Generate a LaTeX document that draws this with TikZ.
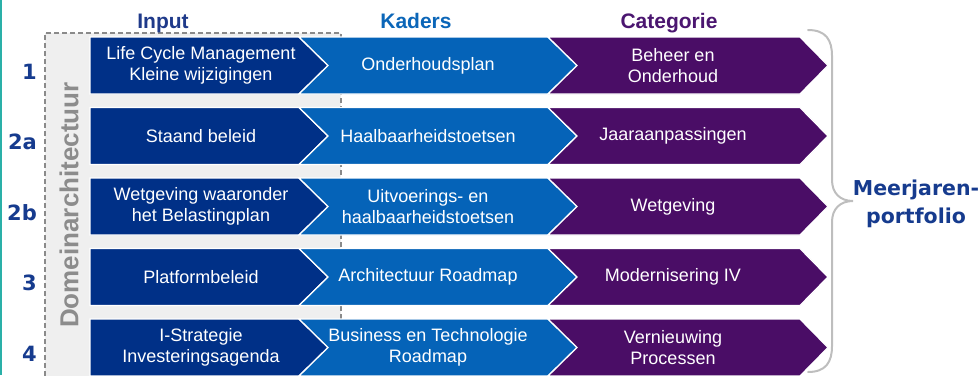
\documentclass[tikz,border=0pt]{standalone}
\usepackage{fontspec}
\setmainfont{Liberation Sans}
\newfontfamily\dejavu{DejaVu Sans}
\definecolor{inputc}{HTML}{003087}
\definecolor{kaderc}{HTML}{0563B8}
\definecolor{catc}{HTML}{4A0D66}
\definecolor{inhdr}{HTML}{1F3A8A}
\definecolor{kdhdr}{HTML}{0B66B8}
\definecolor{cthdr}{HTML}{4B1670}
\definecolor{numc}{HTML}{163B8E}
\definecolor{graybg}{HTML}{EFEFEF}
\definecolor{dashc}{HTML}{8A8A8A}
\definecolor{domc}{HTML}{8C8C8C}
\definecolor{tealc}{HTML}{2AB0A8}
\definecolor{bracec}{HTML}{BEBEBE}
\begin{document}
\begin{tikzpicture}[x=1pt,y=-1pt,
  chevtext/.style={text=white, align=center, inner sep=0pt, font=\fontsize{18}{21}\selectfont},
  hdr/.style={inner sep=0pt, anchor=base, font=\fontsize{21}{25}\selectfont\bfseries},
  numstyle/.style={inner sep=0pt, anchor=base east, text=numc, font=\dejavu\fontsize{21}{25}\selectfont\bfseries},
  chevshape/.style={draw=white, line width=1.3pt, line join=miter},
  dashline/.style={draw=dashc, line width=1.5pt, dash pattern=on 5pt off 3pt},
]
\useasboundingbox (0,0) rectangle (979,375);
% gray domain area
\fill[graybg] (45,33) rectangle (341,376);
\draw[dashline] (45,376) -- (45,33) -- (341,33) -- (341,376);
\node[rotate=90, inner sep=0pt, text=domc, font=\fontsize{26}{30}\selectfont\bfseries] (dom) at (69,205) {Domeinarchitectuur};
% teal left rule
\draw[tealc, line width=2pt] (1,0) -- (1,375);
% headers
\node[hdr, text=inhdr] (hin) at (163,28) {Input};
\node[hdr, text=kdhdr] (hkd) at (416,28) {Kaders};
\node[hdr, text=cthdr] (hct) at (669,28) {Categorie};
% rows
\foreach \t/\nn/\a/\b/\c [count=\i] in {
  37/1/{Life Cycle Management\\Kleine wijzigingen}/{Onderhoudsplan}/{Beheer en\\Onderhoud},
  107.5/2a/{Staand beleid}/{Haalbaarheidstoetsen}/{Jaaraanpassingen},
  178/2b/{Wetgeving waaronder\\het Belastingplan}/{Uitvoerings- en\\haalbaarheidstoetsen}/{Wetgeving},
  248.5/3/{Platformbeleid}/{Architectuur Roadmap}/{Modernisering IV},
  319/4/{I-Strategie\\Investeringsagenda}/{Business en Technologie\\Roadmap}/{Vernieuwing\\Processen}}{
  \pgfmathsetmacro\m{\t+28.5}
  \pgfmathsetmacro\bt{\t+57}
  \pgfmathsetmacro\nb{\t+42}
  \filldraw[chevshape, fill=inputc] (90,\t) -- (299,\t) -- (328,\m) -- (299,\bt) -- (90,\bt) -- cycle;
  \filldraw[chevshape, fill=kaderc] (299,\t) -- (548,\t) -- (577,\m) -- (548,\bt) -- (299,\bt) -- (328,\m) -- cycle;
  \filldraw[chevshape, fill=catc] (548,\t) -- (800,\t) -- (828,\m) -- (800,\bt) -- (548,\bt) -- (577,\m) -- cycle;
  \node[chevtext] (in\i) at (201,\m) {\a};
  \node[chevtext] (kd\i) at (428,\m) {\b};
  \node[chevtext] (ct\i) at (673,\m) {\c};
  \node[numstyle] (num\i) at (37,\nb) {\nn};
}
% brace
\draw[bracec, line width=2pt, line cap=round]
  (808,30) .. controls (826,30) and (832,40) .. (832,56) -- (832,180)
  .. controls (832,193) and (840,201) .. (853,201)
  .. controls (840,201) and (832,209) .. (832,222) -- (832,346)
  .. controls (832,362) and (826,372) .. (808,372);
\node[inner sep=0pt, align=center, text=numc, font=\dejavu\fontsize{20.5}{28}\selectfont\bfseries] (mp) at (916,204) {Meerjaren-\\portfolio};
\end{tikzpicture}
\end{document}
